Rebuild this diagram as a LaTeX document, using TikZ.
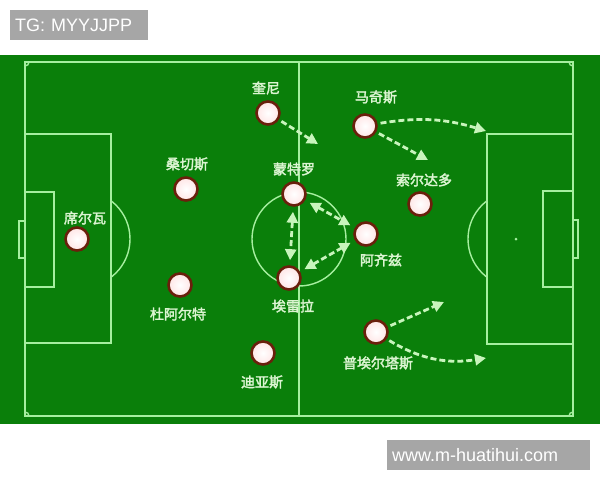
\documentclass[tikz,border=0pt]{standalone}
\usepackage{fontspec}
\usepackage{xcolor}
\usepackage{tikz}
\usetikzlibrary{positioning,arrows.meta}
\newfontfamily\cjk[FakeBold=2.5]{Noto Sans CJK SC}
\newfontfamily\wmfont{Liberation Sans}
\definecolor{grass}{HTML}{0A7F0A}
\definecolor{chalk}{HTML}{A6EFA0}
\definecolor{runline}{HTML}{C8F5BC}
\definecolor{rim}{HTML}{6A200C}
\definecolor{pnametext}{HTML}{DCF5D2}
\definecolor{wmgray}{HTML}{A6A6A6}

\begin{document}
\begin{tikzpicture}[x=1pt,y=-1pt,
        >={Triangle[length=11pt,width=11pt]},
        player/.style={circle, minimum size=23pt, inner sep=0pt, draw=rim, line width=2.6pt, inner color=white, outer color=red!10},
        pname/.style={font=\cjk\fontsize{14}{15}\selectfont, text=pnametext, inner sep=0pt},
        fieldline/.style={chalk, line width=1.4pt},
        run/.style={runline, line width=2.8pt, dash pattern=on 6pt off 3pt, ->, shorten <=3pt},
        swap/.style={runline, line width=2.8pt, dash pattern=on 6pt off 3pt, <->, shorten <=5pt, shorten >=5pt},
        wmark/.style={fill=wmgray, text=white, font=\wmfont\fontsize{18}{20}\selectfont, minimum height=30pt, inner xsep=5pt, anchor=west}]
        \useasboundingbox (0,0) rectangle (600,480);
        \fill[grass] (0,55) rectangle (600,424);

        % pitch
        \draw[fieldline] (25,62) rectangle (573,416);
        \draw[fieldline] (299,62) -- (299,416);
        \draw[fieldline] (299,239) circle[radius=47pt];
        \draw[fieldline] (25,134) rectangle (111,343);
        \draw[fieldline] (25,192) rectangle (54,287);
        \draw[fieldline] (19,221) rectangle (25,258);
        \draw[fieldline] (487,134) rectangle (573,344);
        \draw[fieldline] (543,191) rectangle (573,287);
        \draw[fieldline] (573,220) rectangle (578,258);
        \fill[chalk] (516,239) circle[radius=1.5pt];
        \begin{scope}
            \clip (111,150) rectangle (140,330);
            \draw[fieldline] (82,239) circle[radius=48pt];
        \end{scope}
        \begin{scope}
            \clip (460,150) rectangle (487,330);
            \draw[fieldline] (516,239) circle[radius=48pt];
        \end{scope}
        \begin{scope}
            \clip (25,62) rectangle (573,416);
            \foreach \p in {(25,62),(573,62),(25,416),(573,416)}
                \draw[fieldline] \p circle[radius=4pt];
        \end{scope}

        % players
        \node[player] (kuini) at (268,113) {};
        \node[player] (maqisi) at (365,126) {};
        \node[player] (sangqiesi) at (186,189) {};
        \node[player] (mengteluo) at (294,194) {};
        \node[player] (suoerdaduo) at (420,204) {};
        \node[player] (xierwa) at (77,239) {};
        \node[player] (aqizi) at (366,234) {};
        \node[player] (aileila) at (289,278) {};
        \node[player] (duaerte) at (180,285) {};
        \node[player] (puaiertasi) at (376,332) {};
        \node[player] (diyasi) at (263,353) {};

        \node[pname] (kuini-t) at (266,88) {奎尼};
        \node[pname] (maqisi-t) at (376,97) {马奇斯};
        \node[pname] (sangqiesi-t) at (187,164) {桑切斯};
        \node[pname] (mengteluo-t) at (294,169) {蒙特罗};
        \node[pname] (suoerdaduo-t) at (424,180) {索尔达多};
        \node[pname] (xierwa-t) at (85,218) {席尔瓦};
        \node[pname] (aqizi-t) at (381,260) {阿齐兹};
        \node[pname] (aileila-t) at (293,306) {埃雷拉};
        \node[pname] (duaerte-t) at (178,314) {杜阿尔特};
        \node[pname] (puaiertasi-t) at (378,363) {普埃尔塔斯};
        \node[pname] (diyasi-t) at (262,382) {迪亚斯};

        % runs and passes
        \coordinate (kuini-to) at (318,144);
        \coordinate (maqisi-far) at (486,131);
        \coordinate (maqisi-in) at (428,160);
        \coordinate (puai-up) at (444,302);
        \coordinate (puai-down) at (486,358);
        \draw[run] (kuini) -- (kuini-to);
        \draw[run] (maqisi) to[bend left=13] (maqisi-far);
        \draw[run] (maqisi) -- (maqisi-in);
        \draw[swap] (mengteluo) -- (aileila);
        \draw[swap] (mengteluo) -- (aqizi);
        \draw[swap] (aileila) -- (aqizi);
        \draw[run] (puaiertasi) -- (puai-up);
        \draw[run] (puaiertasi) to[bend right=20] (puai-down);

        % watermarks
        \node[wmark, text width=128pt] (tg) at (10,25) {TG: MYYJJPP};
        \node[wmark, text width=193pt] (site) at (387,455) {www.m-huatihui.com};
\end{tikzpicture}
\end{document}
